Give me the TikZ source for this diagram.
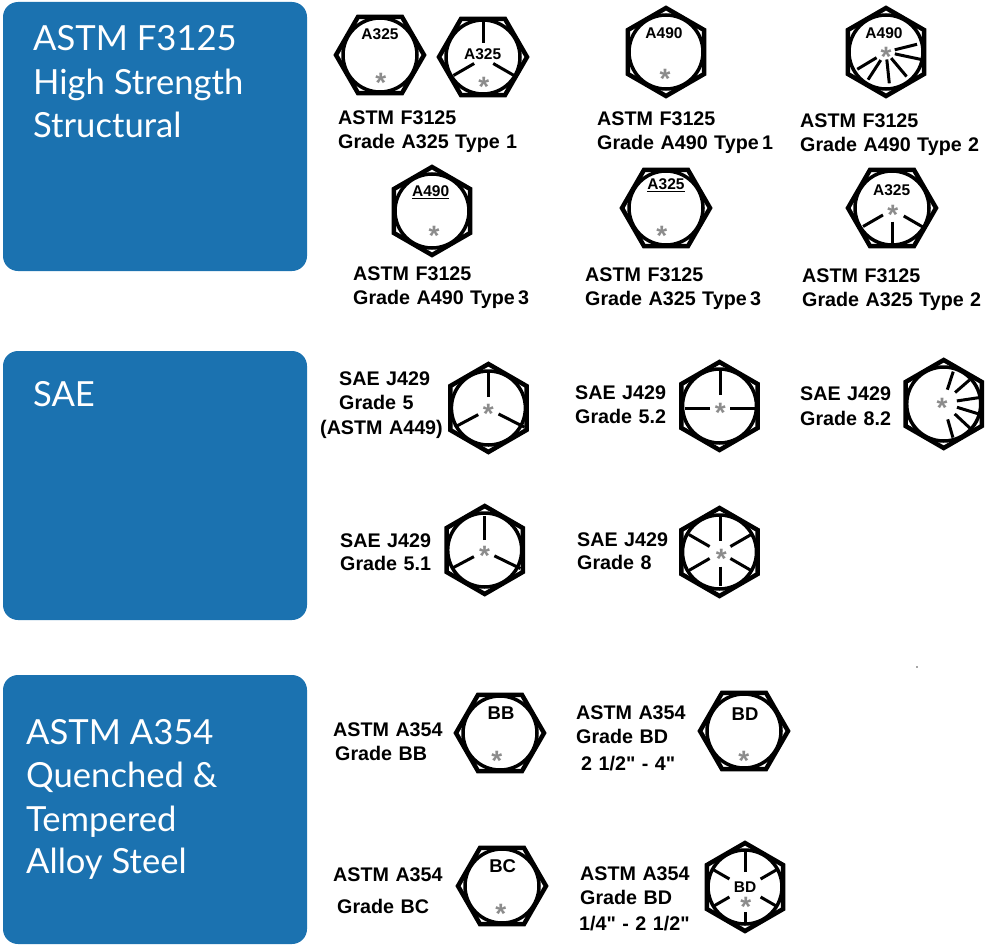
\documentclass[tikz,border=0pt]{standalone}
\usepackage{fontspec}
\newfontfamily\labelfont{Liberation Sans}
\newfontfamily\titlefont{Lato}
\usetikzlibrary{shapes.geometric}
\definecolor{panelblue}{HTML}{1B72B0}
\definecolor{stargray}{HTML}{8C8C8C}
\newcommand{\gradefont}{\labelfont\bfseries\fontsize{19.7}{20}\selectfont\spaceskip=0.33em\relax}
\tikzset{
    bluepanel/.style={fill=panelblue, rounded corners=15pt},
    paneltitle/.style={anchor=base west, inner sep=0pt, text=white, font=\titlefont\fontsize{34.6}{35}\selectfont},
    gradelabel/.style={anchor=base west, inner sep=0pt, font=\gradefont},
    headmark/.style={inner sep=0pt, font=\labelfont\bfseries\fontsize{15.5}{16}\selectfont},
    bigmark/.style={inner sep=0pt, font=\labelfont\bfseries\fontsize{18.5}{19}\selectfont},
    boltnut/.style={draw, line width=4.5pt, regular polygon, regular polygon sides=6, minimum size=88pt, inner sep=0pt, outer sep=0pt, line join=miter},
    boltring/.style={line width=3.5pt},
    boltslot/.style={line width=3pt},
    starmark/.style={anchor=base, inner sep=0pt, yshift=-14.5pt, text=stargray, font=\labelfont\bfseries\fontsize{28}{28}\selectfont},
}
\newcommand{\bolthead}[4]{
    \node[boltnut, shape border rotate=#4] (#1) at (#2,#3) {};
    \draw[boltring] (#1.center) circle (37);
}
\newcommand{\boltstar}[3]{
    \node[starmark] (#1star) at (#2,#3) {*};
}
% slot list is angle/inner radius/outer radius
\newcommand{\boltslots}[3]{
    \foreach \ang/\ri/\ro in {#3} {
        \draw[boltslot] (#1,#2) ++(\ang:\ri) -- ++(\ang:\ro-\ri);
    }
}
\begin{document}
\begin{tikzpicture}[x=1pt, y=-1pt]
    \useasboundingbox (0,0) rectangle (987,950);

    \fill[bluepanel] (3,2) rectangle (307,271);
    \fill[bluepanel] (3,351) rectangle (307,620);
    \fill[bluepanel] (3,675) rectangle (307,944);

    \node[paneltitle] (titleA) at (33,51) {ASTM F3125};
    \node[paneltitle] (titleB) at (33,94) {High Strength};
    \node[paneltitle] (titleC) at (33,137) {Structural};
    \node[paneltitle] (titleD) at (33,406) {SAE};
    \node[paneltitle] (titleE) at (26,744) {ASTM A354};
    \node[paneltitle] (titleF) at (26,787) {Quenched \&};
    \node[paneltitle] (titleG) at (26,831) {Tempered};
    \node[paneltitle] (titleH) at (26,873) {Alloy Steel};

    % ASTM F3125
    \bolthead{fa}{380}{55}{0}
    \node[headmark] (fatext) at (380,34) {A325};
    \boltstar{fa}{380.7}{78.3}
    \bolthead{fb}{483}{57}{0}
    \node[headmark] (fbtext) at (482.7,54) {A325};
    \boltstar{fb}{483.7}{82}
    \boltslots{483.7}{58}{-90/15/38, 150/11/35, 30/11/35}
    \bolthead{fc}{666}{52}{30}
    \node[headmark] (fctext) at (664,33) {A490};
    \boltstar{fc}{665}{74}
    \bolthead{fd}{886}{52}{30}
    \node[headmark] (fdtext) at (884,33.3) {A490};
    \boltstar{fd}{886}{51.7}
    \boltslots{886}{52}{-14/9/32, 12/9/36, 50/8/32, 84/7.5/31.5, 123/9.6/33, 149/11/33.5}
    \bolthead{fe}{432}{211}{30}
    \node[headmark] (fetext) at (430.7,192.5) {\underline{A490}};
    \boltstar{fe}{434}{230.7}
    \bolthead{ff}{666}{208}{0}
    \node[headmark] (fftext) at (666,185.5) {\underline{A325}};
    \boltstar{ff}{661.7}{230.7}
    \bolthead{fg}{892}{208}{0}
    \node[headmark] (fgtext) at (891.7,190) {A325};
    \boltstar{fg}{892.7}{210}
    \boltslots{892.5}{209.5}{150/11/34, 90/12/36, 30/13/36}

    \node[gradelabel] (laba) at (338,124) {ASTM F3125};
    \node[gradelabel] (labb) at (338,148) {Grade A325 Type 1};
    \node[gradelabel] (labc) at (597,125) {ASTM F3125};
    \node[gradelabel] (labd) at (597,149) {Grade A490 Type\,1};
    \node[gradelabel] (labe) at (800,127) {ASTM F3125};
    \node[gradelabel] (labf) at (800,151) {Grade A490 Type 2};
    \node[gradelabel] (labg) at (353,280) {ASTM F3125};
    \node[gradelabel] (labh) at (353,304) {Grade A490 Type\,3};
    \node[gradelabel] (labi) at (585,281) {ASTM F3125};
    \node[gradelabel] (labj) at (585,305) {Grade A325 Type\,3};
    \node[gradelabel] (labk) at (802,282) {ASTM F3125};
    \node[gradelabel] (labl) at (802,306) {Grade A325 Type 2};

    % SAE
    \bolthead{sa}{488.4}{408}{30}
    \boltstar{sa}{488.4}{409.3}
    \boltslots{488.8}{409}{-90/12/39, 152/12/37, 27/11/40}
    \bolthead{sb}{719.5}{406}{30}
    \boltstar{sb}{720.4}{408}
    \boltslots{720}{408}{-90/13/38, 180/10/35, 0/10/36}
    \bolthead{sc}{943.7}{404}{30}
    \boltstar{sc}{942}{403}
    \boltslots{943}{403}{-72/14/33, -41/16/35, -8.5/14/38, 17/14.6/40, 43/16/37, 74/17/36}
    \bolthead{sd}{484.7}{550}{30}
    \boltstar{sd}{484.5}{550.7}
    \boltslots{484.5}{551}{-90/11/35, 152/12/37, 26/11/40}
    \bolthead{se}{719.5}{552}{30}
    \boltstar{se}{721.2}{554}
    \boltslots{720}{552.5}{-90/12/37, 90/14/33, -30/12/36, 30/12/36, 150/12/36, 210/12/36}

    \node[gradelabel] (labm) at (339,385) {SAE J429};
    \node[gradelabel] (labn) at (339,409) {Grade 5};
    \node[gradelabel] (labo) at (320,434) {(ASTM A449)};
    \node[gradelabel] (labp) at (575,399) {SAE J429};
    \node[gradelabel] (labq) at (575,423) {Grade 5.2};
    \node[gradelabel] (labr) at (800,400) {SAE J429};
    \node[gradelabel] (labs) at (800,425) {Grade 8.2};
    \node[gradelabel] (labt) at (340,547) {SAE J429};
    \node[gradelabel] (labu) at (340,570) {Grade 5.1};
    \node[gradelabel] (labv) at (577,546) {SAE J429};
    \node[gradelabel] (labw) at (577,569) {Grade 8};

    % ASTM A354
    \bolthead{aa}{500}{733}{0}
    \node[bigmark] (aatext) at (501,713.3) {BB};
    \boltstar{aa}{496.7}{756}
    \bolthead{ab}{744}{731}{0}
    \node[bigmark] (abtext) at (745,714) {BD};
    \boltstar{ab}{743.7}{756}
    \bolthead{ac}{502}{886}{0}
    \node[bigmark] (actext) at (502.7,866) {BC};
    \boltstar{ac}{500.7}{909}
    \bolthead{ad}{745}{887}{30}
    \node[headmark] (adtext) at (745,886.7) {BD};
    \boltstar{ad}{745.7}{901.7}
    \boltslots{745}{888}{-90/16/36, 90/24/34, -30/18/37, 30/18/37, 150/18/37, 210/18/37}

    \node[gradelabel] (labx) at (333,736) {ASTM A354};
    \node[gradelabel] (laby) at (335,760) {Grade BB};
    \node[gradelabel] (labz) at (576,719) {ASTM A354};
    \node[gradelabel] (labaa) at (576,743) {Grade BD};
    \node[gradelabel] (labab) at (581,770) {2 1/2" - 4"};
    \node[gradelabel] (labac) at (333,881) {ASTM A354};
    \node[gradelabel] (labad) at (337,913) {Grade BC};
    \node[gradelabel] (labae) at (580,880) {ASTM A354};
    \node[gradelabel] (labaf) at (580,904) {Grade BD};
    \node[gradelabel] (labag) at (579,930) {1/4" - 2 1/2"};

    \fill[black!70] (917,667) circle (0.8);
\end{tikzpicture}
\end{document}
